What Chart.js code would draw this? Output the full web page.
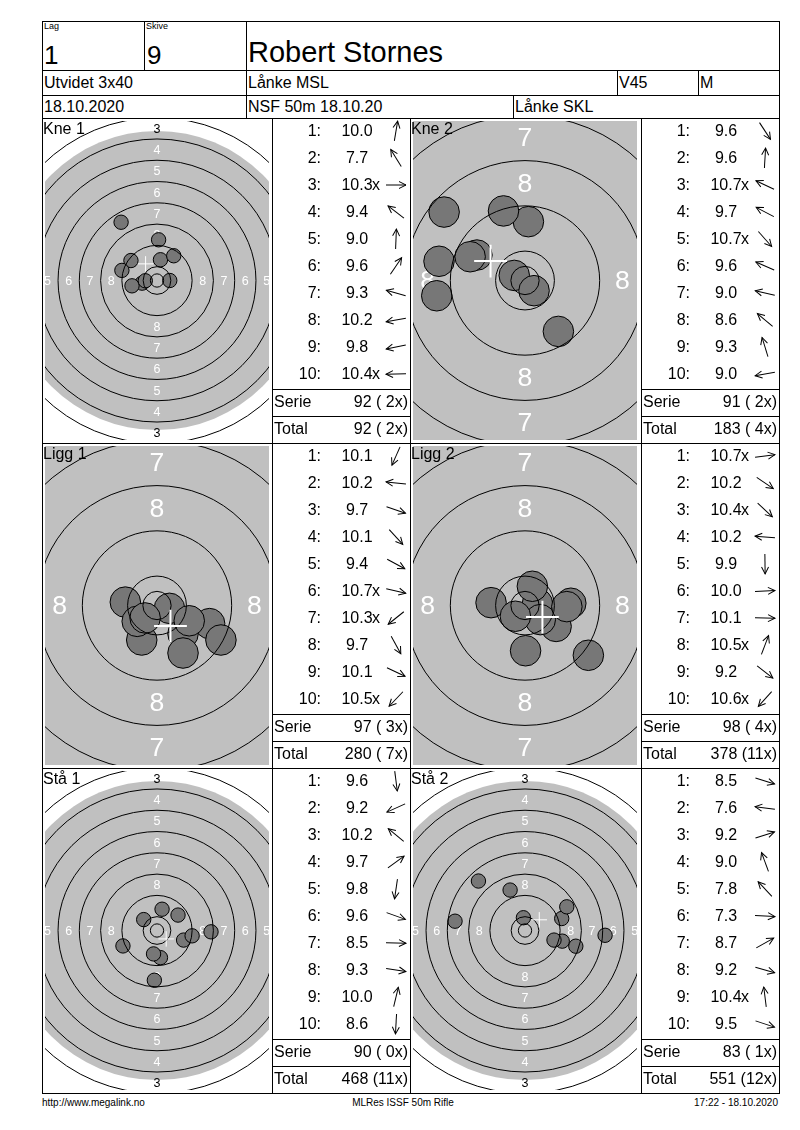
<!DOCTYPE html>
<html>
<head>
<meta charset="utf-8">
<script src="https://cdn.jsdelivr.net/npm/chart.js@4.4.1/dist/chart.umd.min.js"></script>
<style>
  body { margin: 0; background: #fff; font-family: "Liberation Sans", Arial, sans-serif; color: #000; }
  #page { position: relative; width: 800px; height: 1130px; overflow: hidden; }
  .ln { position: absolute; background: #000; }
  .t { position: absolute; white-space: pre; line-height: 1; }
  canvas { position: absolute; }
</style>
</head>
<body>
<div id="page"></div>
<script>
// serier: navn, treff (desimal), innertiere og treffpunkt i mm fra sentrum
const seriesNames = ['Kne 1', 'Kne 2', 'Ligg 1', 'Ligg 2', 'Stå 1', 'Stå 2'];

const kne1Score = [10.0, 7.7, 10.3, 9.4, 9.0, 9.6, 9.3, 10.2, 9.8, 10.4];
const kne1Inner = [0, 0, 1, 0, 0, 0, 0, 0, 0, 1];
const kne1X = [1.3, -13.5, 4.8, -9.8, 0.6, 6.3, -13.2, -5.6, -9.4, -4.4];
const kne1Y = [7.8, 21.9, 0.0, 7.5, 15.3, 9.3, 3.8, -1.0, -2.0, -0.1];

const kne2Score = [9.6, 9.6, 10.7, 9.7, 10.7, 9.6, 9.0, 8.6, 9.3, 9.0];
const kne2Inner = [0, 0, 1, 0, 1, 0, 0, 0, 0, 0];
const kne2X = [5.9, 0.6, -1.9, -8.5, 1.6, -9.7, -15.2, -14.3, -3.8, -15.6];
const kne2Y = [-9.0, 10.4, 0.9, 4.5, -1.8, 4.2, 3.4, 12.1, 12.3, -2.7];

const ligg1Score = [10.1, 10.2, 9.7, 10.1, 9.4, 10.7, 10.3, 9.7, 10.1, 10.5];
const ligg1Inner = [0, 0, 0, 0, 0, 1, 1, 0, 0, 1];
const ligg1X = [-2.7, -5.6, 9.3, 4.6, 11.3, 2.2, -3.5, 4.6, 5.7, -2.1];
const ligg1Y = [-6.1, 0.6, -3.2, -5.0, -6.1, -0.5, -2.8, -8.4, -2.7, -2.2];

const ligg2Score = [10.7, 10.2, 10.4, 10.2, 9.9, 10.0, 10.1, 10.5, 9.2, 10.6];
const ligg2Inner = [1, 0, 1, 0, 0, 0, 0, 1, 0, 1];
const ligg2X = [2.2, 5.5, 2.7, -6.0, 0.1, 8.1, 7.4, 1.3, 11.2, -1.7];
const ligg2Y = [0.3, -3.7, -2.5, 0.5, -8.0, 0.4, -0.2, 3.4, -8.8, -1.9];

const staa1Score = [9.6, 9.2, 10.2, 9.7, 9.8, 9.6, 8.5, 9.3, 10.0, 8.6];
const staa1Inner = [0, 0, 0, 0, 0, 0, 0, 0, 0, 0];
const staa1X = [1.3, -12.8, -5.0, 7.9, -1.3, 10.0, 20.3, 13.2, 1.9, -1.0];
const staa1Y = [-10.2, -5.8, 4.1, 5.8, -8.8, -3.6, -0.5, -2.0, 8.0, -18.7];

const staa2Score = [8.5, 7.6, 9.2, 9.0, 7.8, 7.3, 8.7, 9.2, 10.4, 9.5];
const staa2Inner = [0, 0, 0, 0, 0, 0, 0, 0, 1, 0];
const staa2X = [19.1, -26.3, 13.8, -5.6, -17.5, 30.1, 15.7, 14.0, -0.6, 10.9];
const staa2Y = [-5.9, 3.5, 4.5, 15.2, 18.6, -1.8, 8.9, -4.0, 4.8, -3.6];

// ISSF 50m rifle skive (radius i mm)
const ringNumbers = [10, 9, 8, 7, 6, 5, 4, 3];
const ringRadius = [5.2, 13.2, 21.2, 29.2, 37.2, 45.2, 53.2, 61.2];
const innerTenRadius = 2.5;
const blackRadius = 56.2;
const shotRadius = 2.7;

const scores = [kne1Score, kne2Score, ligg1Score, ligg2Score, staa1Score, staa2Score];
const inners = [kne1Inner, kne2Inner, ligg1Inner, ligg2Inner, staa1Inner, staa2Inner];
const xs = [kne1X, kne2X, ligg1X, ligg2X, staa1X, staa2X];
const ys = [kne1Y, kne2Y, ligg1Y, ligg2Y, staa1Y, staa2Y];
// zoomet visning (halv bredde i mm)
const viewHalf = [42.1, 19.8, 19.8, 19.8, 42.1, 42.1];

const page = document.getElementById('page');

function line(x, y, w, h) {
  const d = document.createElement('div');
  d.className = 'ln';
  d.style.cssText = `left:${x}px;top:${y}px;width:${w}px;height:${h}px`;
  page.appendChild(d);
}
const hline = (x1, x2, y) => line(x1, y, x2 - x1 + 1, 1);
const vline = (x, y1, y2) => line(x, y1, 1, y2 - y1 + 1);

function txt(s, x, y, size, align) {
  const d = document.createElement('div');
  d.className = 't';
  d.textContent = s;
  let st = `top:${(y - size * 0.52).toFixed(1)}px;font-size:${size}px;`;
  if (align === 'r') st += `left:${x - 400}px;width:400px;text-align:right;`;
  else if (align === 'c') st += `left:${x - 200}px;width:400px;text-align:center;`;
  else st += `left:${x}px;`;
  d.style.cssText = st;
  page.appendChild(d);
  return d;
}

function arrow(cx, cy, dx, dy) {
  const deg = Math.atan2(dy, dx) * 180 / Math.PI;
  const d = document.createElement('div');
  d.style.cssText = `position:absolute;left:${cx - 13}px;top:${cy - 13}px;width:26px;height:26px`;
  d.innerHTML = `<svg width="26" height="26"><g transform="rotate(${-deg} 13 13)" stroke="#000" stroke-width="1" fill="none">
    <line x1="3" y1="13" x2="23" y2="13"/><polyline points="16,9.5 23,13 16,16.5"/></g></svg>`;
  page.appendChild(d);
}

// ---- skiverammer
const targetPlugin = {
  id: 'targetPlugin',
  beforeDatasetsDraw(chart) {
    const { ctx, scales: { x, y } } = chart;
    const cx = x.getPixelForValue(0), cy = y.getPixelForValue(0);
    const k = x.getPixelForValue(1) - cx;
    ctx.save();
    ctx.fillStyle = '#c0c0c0';
    ctx.beginPath();
    ctx.arc(cx, cy, blackRadius * k, 0, Math.PI * 2);
    ctx.fill();
    ctx.font = `${(4.7 * k).toFixed(1)}px "Liberation Sans", Arial`;
    ctx.textAlign = 'center';
    ctx.textBaseline = 'middle';
    ringNumbers.forEach((n, i) => {
      if (n > 8 || i === 0) return;
      const r = (ringRadius[i] + ringRadius[i - 1]) / 2;
      ctx.fillStyle = r < blackRadius ? '#fff' : '#000';
      const p = r * k;
      ctx.fillText(n, cx, cy - p + 1);
      ctx.fillText(n, cx, cy + p + 1);
      ctx.fillText(n, cx - p, cy + 1);
      ctx.fillText(n, cx + p, cy + 1);
    });
    ctx.restore();
  },
  afterDatasetsDraw(chart) {
    const { ctx, scales: { x, y } } = chart;
    const cx = x.getPixelForValue(0), cy = y.getPixelForValue(0);
    const k = x.getPixelForValue(1) - cx;
    ctx.save();
    ctx.strokeStyle = '#000';
    ctx.lineWidth = 1;
    [innerTenRadius, ...ringRadius].forEach(r => {
      ctx.beginPath();
      ctx.arc(cx, cy, r * k, 0, Math.PI * 2);
      ctx.stroke();
    });
    // middeltreffpunkt
    const pts = chart.data.datasets[0].data;
    const mx = pts.reduce((a, p) => a + p.x, 0) / pts.length;
    const my = pts.reduce((a, p) => a + p.y, 0) / pts.length;
    const px = x.getPixelForValue(mx), py = y.getPixelForValue(my);
    const h = 2.9 * k;
    ctx.strokeStyle = '#fff';
    ctx.lineWidth = Math.max(1, Math.round(0.35 * k));
    ctx.beginPath();
    ctx.moveTo(px - h, py); ctx.lineTo(px + h, py);
    ctx.moveTo(px, py - h); ctx.lineTo(px, py + h);
    ctx.stroke();
    ctx.restore();
  }
};

// ---- tabellhode
const L = 42, R = 779;
hline(L, R, 21); hline(L, R, 70); hline(L, R, 95); hline(L, R, 118);
hline(L, R, 443); hline(L, R, 768); hline(L, R, 1093);
vline(L, 21, 1093); vline(R, 21, 1093);
vline(144, 21, 70); vline(246, 21, 118);
vline(617, 70, 95); vline(698, 70, 95); vline(513, 95, 118);
vline(272, 118, 1093); vline(410, 118, 1093); vline(641, 118, 1093);

txt('Lag', 44, 27, 9); txt('Skive', 146, 27, 9);
txt('1', 44, 55, 26); txt('9', 147, 55, 26);
txt('Robert Stornes', 248, 53, 29);
txt('Utvidet 3x40', 44, 83, 16); txt('Lånke MSL', 248, 83, 16);
txt('V45', 619, 83, 16); txt('M', 700, 83, 16);
txt('18.10.2020', 44, 107, 16); txt('NSF 50m 18.10.20', 248, 107, 16);
txt('Lånke SKL', 515, 107, 16);

txt('http://www.megalink.no', 42, 1103, 10);
txt('MLRes ISSF 50m Rifle', 403, 1103, 10, 'c');
txt('17:22 - 18.10.2020', 778, 1103, 10, 'r');

// ---- serier
let total = 0, totalX = 0;
seriesNames.forEach((name, p) => {
  const col = p % 2, row = Math.floor(p / 2);
  const cellL = col ? 410 : 42;
  const listL = col ? 641 : 272;
  const T = 118 + 325 * row;

  const cv = document.createElement('canvas');
  cv.width = 224; cv.height = 319;
  cv.style.left = (cellL + 3) + 'px';
  cv.style.top = (T + 3) + 'px';
  page.appendChild(cv);

  const hw = viewHalf[p], hh = hw * 319 / 224;
  new Chart(cv, {
    type: 'scatter',
    data: {
      datasets: [{
        data: xs[p].map((v, i) => ({ x: v, y: ys[p][i] })),
        backgroundColor: '#777777',
        borderColor: '#000',
        borderWidth: 1,
        pointRadius: c => shotRadius * (c.chart.scales.x.getPixelForValue(1) - c.chart.scales.x.getPixelForValue(0)),
        clip: 0
      }]
    },
    options: {
      responsive: false,
      animation: false,
      events: [],
      layout: { padding: 0 },
      scales: {
        x: { display: false, min: -hw, max: hw },
        y: { display: false, min: -hh, max: hh }
      },
      plugins: { legend: { display: false }, tooltip: { enabled: false } }
    },
    plugins: [targetPlugin]
  });

  txt(name, cellL + 1, T + 11, 16);

  // skuddliste
  scores[p].forEach((s, i) => {
    const yc = T + 13 + 27 * i;
    txt((i + 1) + ':', listL + 49, yc, 16, 'r');
    txt(s.toFixed(1), listL + 85, yc, 16, 'c');
    if (inners[p][i]) txt('x', listL + 100, yc, 16);
    arrow(listL + 124, yc, xs[p][i], ys[p][i]);
  });
  const serie = scores[p].reduce((a, s) => a + Math.floor(s + 1e-9), 0);
  const serieX = inners[p].reduce((a, v) => a + v, 0);
  total += serie; totalX += serieX;
  const fmt = (v, n) => `${v} (${String(n).padStart(2, ' ')}x)`;
  hline(listL, listL + 138, T + 271);
  hline(listL, listL + 138, T + 298);
  txt('Serie', listL + 2, T + 284, 16);
  txt(fmt(serie, serieX), listL + 136, T + 284, 16, 'r');
  txt('Total', listL + 2, T + 311, 16);
  txt(fmt(total, totalX), listL + 136, T + 311, 16, 'r');
});
</script>
</body>
</html>
